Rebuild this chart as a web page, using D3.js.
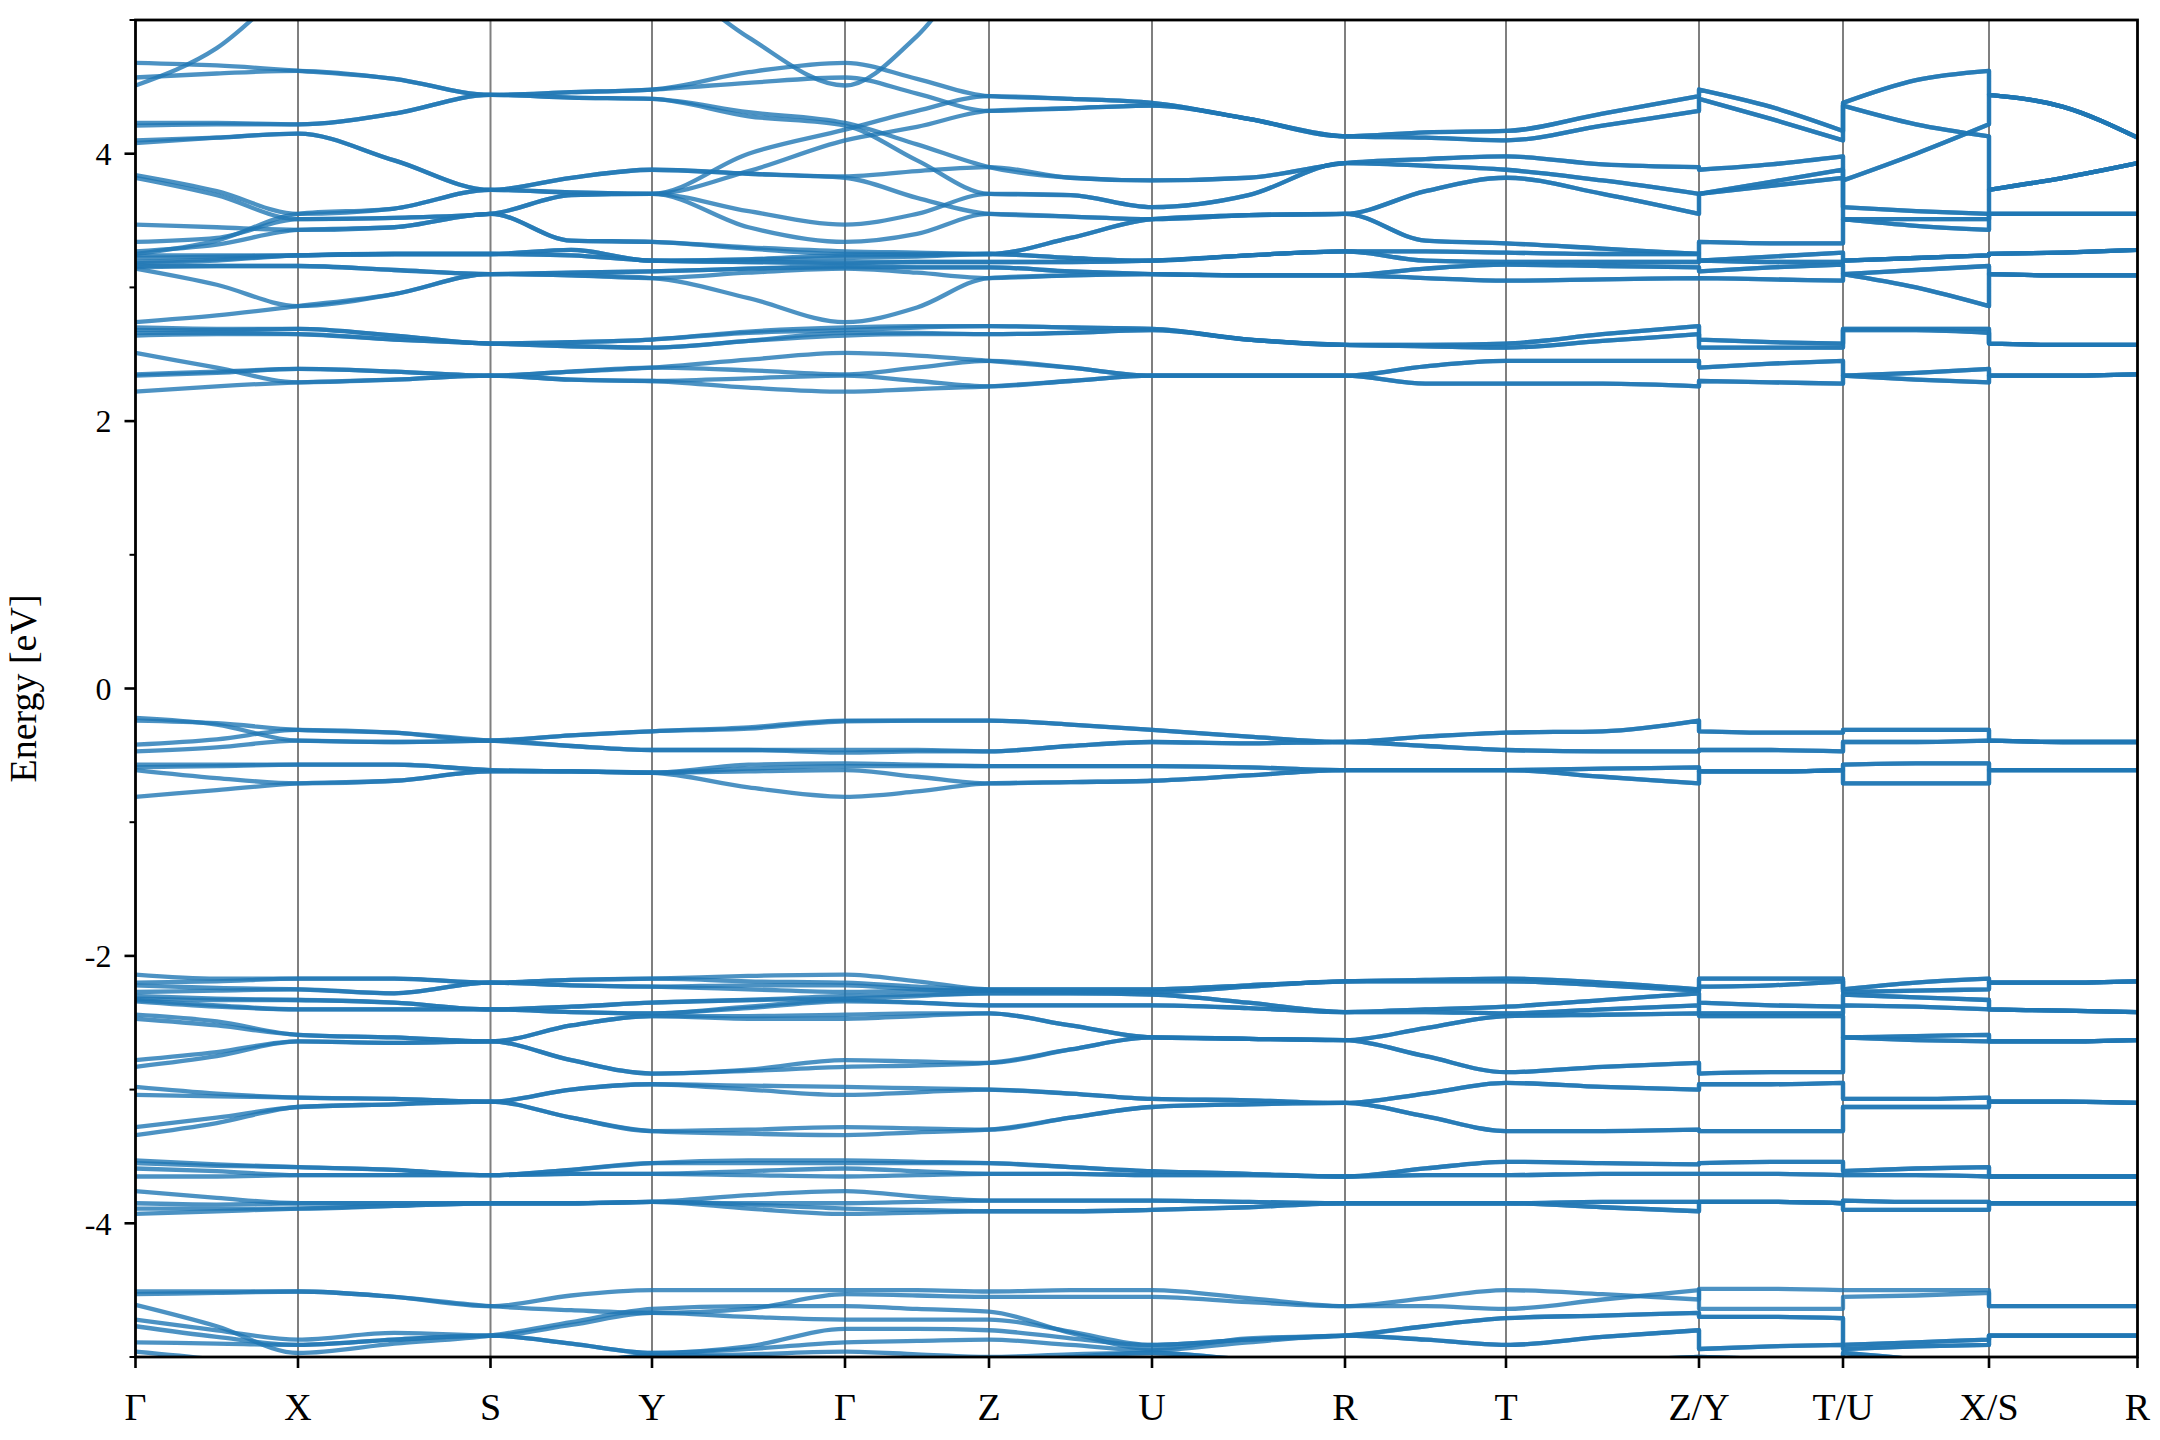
<!DOCTYPE html>
<html><head><meta charset="utf-8">
<script src="https://cdn.jsdelivr.net/npm/d3@7"></script>
<style>body{margin:0;background:#fff}</style>
</head><body>
<svg id="chart" width="2160" height="1440"></svg>
<script>
// high-symmetry k positions along the path and their labels
const kTicks = [0, 0.650, 1.420, 2.066, 2.838, 3.414, 4.066, 4.838, 5.482, 6.254, 6.830, 7.414, 8.008];
const kLabels = ["Γ","X","S","Y","Γ","Z","U","R","T","Z/Y","T/U","X/S","R"];
const energyTicks = [-4, -2, 0, 2, 4];
const energyMinorTicks = [-5, -3, -1, 1, 3, 5];
// path sections (indices into kTicks); each segment carries a midpoint sample
const sections = [[0,1,2,3,4,5,6,7,8,9],[9,10],[10,11],[11,12]];

// band energies (eV) at: Γ,m,X,m,S,m,Y,m,Γ,m,Z,m,U,m,R,m,T,m,Z | Y,m,T | U,m,X | S,m,R
const condUpper = [
[4.51,4.79,5.3,5.7,5.7,5.7,5.4,4.87,4.51,4.88,5.5,5.7,5.7,5.7,5.7,5.7,5.7,5.7,5.5,5.4,5.7,5.7,5.7,5.7,5.4,5.7,5.7,5.7],
[4.68,4.66,4.62,4.56,4.44,4.46,4.48,4.61,4.68,4.56,4.43,4.41,4.38,4.26,4.13,4.16,4.17,4.30,4.43,4.48,4.35,4.17,4.38,4.55,4.62,4.44,4.35,4.12],
[4.57,4.60,4.62,4.56,4.44,4.46,4.48,4.53,4.57,4.45,4.32,4.34,4.36,4.26,4.13,4.12,4.10,4.21,4.32,4.41,4.26,4.10,4.36,4.22,4.13,3.73,3.82,3.93],
[4.23,4.23,4.22,4.30,4.44,4.42,4.41,4.31,4.23,4.07,3.90,3.82,3.80,3.82,3.93,3.96,3.98,3.92,3.90,3.88,3.92,3.98,3.80,4.00,4.22,4.44,4.35,4.12],
[4.21,4.22,4.22,4.30,4.44,4.42,4.41,4.28,4.21,3.95,3.70,3.69,3.60,3.69,3.93,3.91,3.88,3.80,3.70,3.70,3.79,3.88,3.60,3.57,3.55,3.73,3.82,3.93],
[4.10,4.12,4.15,3.95,3.73,3.82,3.88,3.85,3.83,3.87,3.90,3.82,3.80,3.82,3.93,3.96,3.98,3.92,3.90,3.88,3.92,3.98,3.80,4.00,4.22,4.44,4.35,4.12],
[4.08,4.12,4.15,3.95,3.73,3.82,3.88,3.85,3.82,3.67,3.55,3.53,3.51,3.54,3.55,3.72,3.82,3.70,3.55,3.70,3.76,3.82,3.51,3.51,3.51,3.55,3.55,3.55],
[3.84,3.72,3.55,3.59,3.73,3.71,3.70,4.00,4.18,4.32,4.43,4.41,4.38,4.26,4.13,4.16,4.17,4.30,4.43,4.48,4.35,4.17,4.38,4.55,4.62,4.44,4.35,4.12],
[3.25,3.35,3.55,3.59,3.73,3.71,3.70,3.87,4.10,4.20,4.32,4.34,4.36,4.26,4.13,4.12,4.10,4.21,4.32,4.41,4.26,4.10,4.36,4.22,4.13,3.73,3.82,3.93],
[3.82,3.69,3.51,3.52,3.55,3.69,3.70,3.57,3.47,3.55,3.70,3.69,3.60,3.69,3.93,3.91,3.88,3.80,3.70,3.70,3.79,3.88,3.60,3.57,3.55,3.73,3.82,3.93],
[3.34,3.37,3.51,3.52,3.55,3.69,3.70,3.45,3.34,3.40,3.55,3.53,3.51,3.54,3.55,3.72,3.82,3.70,3.55,3.70,3.76,3.82,3.51,3.51,3.51,3.55,3.55,3.55],
[3.47,3.45,3.43,3.45,3.55,3.35,3.34,3.30,3.27,3.26,3.25,3.37,3.51,3.54,3.55,3.35,3.33,3.29,3.25,3.34,3.33,3.33,3.51,3.46,3.43,3.55,3.55,3.55],
[3.27,3.32,3.43,3.45,3.55,3.35,3.34,3.29,3.25,3.25,3.25,3.37,3.51,3.54,3.55,3.35,3.33,3.29,3.25,3.34,3.33,3.33,3.51,3.46,3.43,3.55,3.55,3.55],
[3.24,3.24,3.24,3.25,3.25,3.28,3.20,3.21,3.24,3.24,3.25,3.22,3.20,3.24,3.27,3.27,3.26,3.25,3.25,3.20,3.23,3.26,3.20,3.22,3.24,3.25,3.26,3.28],
[3.22,3.23,3.24,3.25,3.25,3.28,3.20,3.21,3.22,3.23,3.25,3.22,3.20,3.24,3.27,3.27,3.26,3.25,3.25,3.20,3.23,3.26,3.20,3.22,3.24,3.25,3.26,3.28],
[3.19,3.21,3.24,3.25,3.25,3.24,3.20,3.19,3.19,3.19,3.19,3.19,3.20,3.24,3.27,3.20,3.19,3.19,3.19,3.20,3.19,3.19,3.20,3.22,3.24,3.25,3.26,3.28],
[3.18,3.20,3.24,3.25,3.25,3.24,3.20,3.19,3.18,3.19,3.19,3.19,3.20,3.24,3.27,3.20,3.19,3.19,3.19,3.20,3.19,3.19,3.20,3.22,3.24,3.25,3.26,3.28],
[3.16,3.16,3.16,3.13,3.10,3.11,3.12,3.14,3.16,3.15,3.15,3.12,3.10,3.09,3.09,3.14,3.17,3.16,3.15,3.12,3.15,3.17,3.10,3.13,3.16,3.10,3.09,3.09],
[3.15,3.16,3.16,3.13,3.10,3.11,3.12,3.14,3.15,3.15,3.15,3.12,3.10,3.09,3.09,3.14,3.17,3.16,3.15,3.12,3.15,3.17,3.10,3.13,3.16,3.10,3.09,3.09],
[3.14,3.02,2.86,2.95,3.10,3.09,3.07,3.11,3.14,3.11,3.07,3.09,3.10,3.09,3.09,3.07,3.05,3.06,3.07,3.07,3.06,3.05,3.10,3.00,2.86,3.10,3.09,3.09],
[2.74,2.79,2.86,2.95,3.10,3.09,3.07,2.92,2.74,2.85,3.07,3.09,3.10,3.09,3.09,3.07,3.05,3.06,3.07,3.07,3.06,3.05,3.10,3.00,2.86,3.10,3.09,3.09]
];
const condLower = [
[2.70,2.69,2.69,2.64,2.58,2.59,2.61,2.67,2.70,2.71,2.71,2.70,2.69,2.61,2.57,2.57,2.58,2.65,2.71,2.61,2.59,2.58,2.69,2.69,2.69,2.58,2.57,2.57],
[2.68,2.68,2.69,2.64,2.58,2.59,2.61,2.66,2.68,2.70,2.71,2.70,2.69,2.61,2.57,2.57,2.58,2.65,2.71,2.61,2.59,2.58,2.69,2.69,2.69,2.58,2.57,2.57],
[2.66,2.66,2.65,2.61,2.58,2.56,2.55,2.60,2.66,2.66,2.65,2.66,2.68,2.61,2.57,2.56,2.55,2.60,2.65,2.55,2.55,2.55,2.68,2.68,2.66,2.58,2.57,2.57],
[2.64,2.65,2.65,2.61,2.58,2.56,2.55,2.60,2.64,2.65,2.65,2.66,2.68,2.61,2.57,2.56,2.55,2.60,2.65,2.55,2.55,2.55,2.68,2.68,2.66,2.58,2.57,2.57],
[2.35,2.37,2.39,2.37,2.34,2.37,2.40,2.46,2.51,2.49,2.45,2.40,2.34,2.34,2.34,2.41,2.45,2.45,2.45,2.40,2.43,2.45,2.34,2.36,2.39,2.34,2.34,2.35],
[2.34,2.36,2.39,2.37,2.34,2.37,2.40,2.38,2.35,2.40,2.45,2.40,2.34,2.34,2.34,2.41,2.45,2.45,2.45,2.40,2.43,2.45,2.34,2.36,2.39,2.34,2.34,2.35],
[2.51,2.40,2.29,2.31,2.34,2.31,2.30,2.32,2.34,2.30,2.26,2.30,2.34,2.34,2.34,2.28,2.28,2.28,2.26,2.30,2.29,2.28,2.34,2.31,2.29,2.34,2.34,2.35],
[2.22,2.26,2.29,2.31,2.34,2.31,2.30,2.25,2.22,2.24,2.26,2.30,2.34,2.34,2.34,2.28,2.28,2.28,2.26,2.30,2.29,2.28,2.34,2.31,2.29,2.34,2.34,2.35]
];
const valenceTop = [
[-0.22,-0.27,-0.39,-0.40,-0.39,-0.35,-0.32,-0.29,-0.24,-0.24,-0.24,-0.27,-0.31,-0.36,-0.40,-0.36,-0.33,-0.32,-0.24,-0.32,-0.33,-0.33,-0.31,-0.31,-0.31,-0.39,-0.40,-0.40],
[-0.24,-0.26,-0.31,-0.33,-0.39,-0.35,-0.32,-0.30,-0.245,-0.24,-0.24,-0.27,-0.31,-0.36,-0.40,-0.36,-0.33,-0.32,-0.24,-0.32,-0.33,-0.33,-0.31,-0.31,-0.31,-0.39,-0.40,-0.40],
[-0.42,-0.38,-0.31,-0.33,-0.39,-0.43,-0.46,-0.46,-0.46,-0.46,-0.47,-0.43,-0.40,-0.41,-0.40,-0.43,-0.46,-0.47,-0.47,-0.46,-0.46,-0.47,-0.40,-0.40,-0.39,-0.39,-0.40,-0.40],
[-0.47,-0.44,-0.39,-0.40,-0.39,-0.43,-0.46,-0.46,-0.48,-0.47,-0.47,-0.43,-0.40,-0.41,-0.40,-0.43,-0.46,-0.47,-0.47,-0.46,-0.46,-0.47,-0.40,-0.40,-0.39,-0.39,-0.40,-0.40],
[-0.57,-0.57,-0.57,-0.57,-0.61,-0.62,-0.63,-0.57,-0.56,-0.57,-0.58,-0.58,-0.58,-0.59,-0.61,-0.61,-0.61,-0.60,-0.59,-0.62,-0.62,-0.61,-0.57,-0.56,-0.56,-0.61,-0.61,-0.61],
[-0.59,-0.58,-0.57,-0.57,-0.61,-0.62,-0.63,-0.60,-0.58,-0.58,-0.58,-0.58,-0.58,-0.59,-0.61,-0.61,-0.61,-0.60,-0.59,-0.62,-0.62,-0.61,-0.57,-0.56,-0.56,-0.61,-0.61,-0.61],
[-0.61,-0.67,-0.71,-0.69,-0.62,-0.62,-0.63,-0.62,-0.61,-0.66,-0.71,-0.70,-0.69,-0.65,-0.61,-0.61,-0.61,-0.66,-0.71,-0.62,-0.62,-0.61,-0.71,-0.71,-0.71,-0.61,-0.61,-0.61],
[-0.81,-0.76,-0.71,-0.69,-0.62,-0.62,-0.63,-0.74,-0.81,-0.77,-0.71,-0.70,-0.69,-0.65,-0.61,-0.61,-0.61,-0.66,-0.71,-0.62,-0.62,-0.61,-0.71,-0.71,-0.71,-0.61,-0.61,-0.61]
];
const valenceMid = [
[-2.14,-2.17,-2.17,-2.17,-2.20,-2.18,-2.17,-2.15,-2.14,-2.19,-2.25,-2.25,-2.25,-2.22,-2.19,-2.18,-2.17,-2.20,-2.25,-2.17,-2.17,-2.17,-2.25,-2.20,-2.17,-2.20,-2.20,-2.19],
[-2.20,-2.19,-2.17,-2.17,-2.20,-2.18,-2.17,-2.19,-2.20,-2.23,-2.25,-2.25,-2.25,-2.22,-2.19,-2.18,-2.17,-2.20,-2.25,-2.17,-2.17,-2.17,-2.25,-2.20,-2.17,-2.20,-2.20,-2.19],
[-2.22,-2.24,-2.25,-2.28,-2.20,-2.22,-2.23,-2.22,-2.22,-2.25,-2.26,-2.27,-2.27,-2.23,-2.19,-2.19,-2.19,-2.22,-2.26,-2.23,-2.22,-2.19,-2.27,-2.26,-2.25,-2.20,-2.20,-2.19],
[-2.27,-2.26,-2.25,-2.28,-2.20,-2.22,-2.23,-2.25,-2.27,-2.26,-2.26,-2.27,-2.27,-2.23,-2.19,-2.19,-2.19,-2.22,-2.26,-2.23,-2.22,-2.19,-2.27,-2.26,-2.25,-2.20,-2.20,-2.19],
[-2.30,-2.32,-2.33,-2.35,-2.40,-2.38,-2.35,-2.33,-2.30,-2.29,-2.28,-2.28,-2.29,-2.35,-2.42,-2.40,-2.38,-2.33,-2.28,-2.35,-2.37,-2.38,-2.29,-2.31,-2.33,-2.40,-2.41,-2.42],
[-2.32,-2.33,-2.33,-2.35,-2.40,-2.38,-2.35,-2.33,-2.32,-2.30,-2.28,-2.28,-2.29,-2.35,-2.42,-2.40,-2.38,-2.33,-2.28,-2.35,-2.37,-2.38,-2.29,-2.31,-2.33,-2.40,-2.41,-2.42],
[-2.33,-2.37,-2.40,-2.40,-2.40,-2.42,-2.43,-2.38,-2.33,-2.35,-2.37,-2.37,-2.37,-2.39,-2.42,-2.42,-2.43,-2.40,-2.37,-2.43,-2.43,-2.43,-2.37,-2.38,-2.40,-2.40,-2.41,-2.42],
[-2.34,-2.38,-2.40,-2.40,-2.40,-2.42,-2.43,-2.39,-2.34,-2.35,-2.37,-2.37,-2.37,-2.39,-2.42,-2.42,-2.43,-2.40,-2.37,-2.43,-2.43,-2.43,-2.37,-2.38,-2.40,-2.40,-2.41,-2.42],
[-2.44,-2.49,-2.59,-2.61,-2.64,-2.52,-2.45,-2.45,-2.44,-2.43,-2.43,-2.52,-2.61,-2.62,-2.63,-2.54,-2.45,-2.44,-2.43,-2.45,-2.45,-2.45,-2.61,-2.60,-2.59,-2.64,-2.64,-2.63],
[-2.47,-2.52,-2.59,-2.61,-2.64,-2.52,-2.45,-2.47,-2.47,-2.45,-2.43,-2.52,-2.61,-2.62,-2.63,-2.54,-2.45,-2.44,-2.43,-2.45,-2.45,-2.45,-2.61,-2.60,-2.59,-2.64,-2.64,-2.63],
[-2.78,-2.72,-2.64,-2.65,-2.64,-2.78,-2.88,-2.85,-2.78,-2.79,-2.80,-2.70,-2.61,-2.62,-2.63,-2.75,-2.87,-2.83,-2.80,-2.88,-2.87,-2.87,-2.61,-2.63,-2.64,-2.64,-2.64,-2.63],
[-2.83,-2.75,-2.64,-2.65,-2.64,-2.78,-2.88,-2.86,-2.83,-2.82,-2.80,-2.70,-2.61,-2.62,-2.63,-2.75,-2.87,-2.83,-2.80,-2.88,-2.87,-2.87,-2.61,-2.63,-2.64,-2.64,-2.64,-2.63],
[-2.98,-3.03,-3.06,-3.07,-3.09,-3.00,-2.96,-2.97,-2.98,-2.99,-3.00,-3.03,-3.07,-3.08,-3.10,-3.03,-2.95,-2.98,-3.00,-2.96,-2.96,-2.95,-3.07,-3.07,-3.06,-3.09,-3.09,-3.10],
[-3.04,-3.05,-3.06,-3.07,-3.09,-3.00,-2.96,-3.00,-3.04,-3.02,-3.00,-3.03,-3.07,-3.08,-3.10,-3.03,-2.95,-2.98,-3.00,-2.96,-2.96,-2.95,-3.07,-3.07,-3.06,-3.09,-3.09,-3.10],
[-3.28,-3.21,-3.13,-3.11,-3.09,-3.21,-3.31,-3.30,-3.28,-3.29,-3.30,-3.21,-3.13,-3.11,-3.10,-3.20,-3.31,-3.31,-3.30,-3.31,-3.31,-3.31,-3.13,-3.13,-3.13,-3.09,-3.09,-3.10],
[-3.34,-3.25,-3.13,-3.11,-3.09,-3.21,-3.31,-3.33,-3.34,-3.32,-3.30,-3.21,-3.13,-3.11,-3.10,-3.20,-3.31,-3.31,-3.30,-3.31,-3.31,-3.31,-3.13,-3.13,-3.13,-3.09,-3.09,-3.10]
];
const valenceLow = [
[-3.53,-3.56,-3.58,-3.60,-3.64,-3.60,-3.55,-3.53,-3.53,-3.54,-3.55,-3.58,-3.61,-3.63,-3.65,-3.59,-3.54,-3.55,-3.56,-3.55,-3.54,-3.54,-3.61,-3.59,-3.58,-3.65,-3.65,-3.65],
[-3.55,-3.57,-3.58,-3.60,-3.64,-3.60,-3.55,-3.55,-3.55,-3.55,-3.55,-3.58,-3.61,-3.63,-3.65,-3.59,-3.54,-3.55,-3.56,-3.55,-3.54,-3.54,-3.61,-3.59,-3.58,-3.65,-3.65,-3.65],
[-3.59,-3.61,-3.64,-3.64,-3.64,-3.63,-3.63,-3.61,-3.59,-3.61,-3.63,-3.63,-3.64,-3.64,-3.65,-3.64,-3.64,-3.63,-3.63,-3.63,-3.63,-3.64,-3.64,-3.64,-3.65,-3.65,-3.65,-3.65],
[-3.65,-3.65,-3.64,-3.64,-3.64,-3.63,-3.63,-3.64,-3.65,-3.64,-3.63,-3.63,-3.64,-3.64,-3.65,-3.64,-3.64,-3.63,-3.63,-3.63,-3.63,-3.64,-3.64,-3.64,-3.65,-3.65,-3.65,-3.65],
[-3.76,-3.81,-3.85,-3.85,-3.85,-3.85,-3.84,-3.79,-3.76,-3.80,-3.83,-3.83,-3.83,-3.84,-3.85,-3.85,-3.85,-3.84,-3.84,-3.84,-3.84,-3.85,-3.83,-3.84,-3.84,-3.85,-3.85,-3.85],
[-3.85,-3.86,-3.85,-3.85,-3.85,-3.85,-3.84,-3.85,-3.85,-3.84,-3.83,-3.83,-3.83,-3.84,-3.85,-3.85,-3.85,-3.84,-3.84,-3.84,-3.84,-3.85,-3.83,-3.84,-3.84,-3.85,-3.85,-3.85],
[-3.89,-3.89,-3.89,-3.87,-3.85,-3.85,-3.84,-3.86,-3.89,-3.90,-3.91,-3.91,-3.90,-3.88,-3.85,-3.85,-3.85,-3.88,-3.91,-3.84,-3.84,-3.85,-3.90,-3.90,-3.90,-3.85,-3.85,-3.85],
[-3.93,-3.91,-3.89,-3.87,-3.85,-3.85,-3.84,-3.89,-3.93,-3.92,-3.91,-3.91,-3.90,-3.88,-3.85,-3.85,-3.85,-3.88,-3.91,-3.84,-3.84,-3.85,-3.90,-3.90,-3.90,-3.85,-3.85,-3.85],
[-4.51,-4.51,-4.51,-4.55,-4.62,-4.54,-4.50,-4.50,-4.50,-4.50,-4.51,-4.50,-4.50,-4.56,-4.62,-4.56,-4.50,-4.53,-4.57,-4.49,-4.49,-4.50,-4.50,-4.50,-4.50,-4.62,-4.62,-4.62],
[-4.53,-4.52,-4.51,-4.55,-4.62,-4.65,-4.67,-4.64,-4.53,-4.54,-4.55,-4.55,-4.55,-4.59,-4.62,-4.62,-4.64,-4.57,-4.50,-4.64,-4.64,-4.64,-4.55,-4.54,-4.52,-4.62,-4.62,-4.62],
[-4.61,-4.77,-4.97,-4.90,-4.84,-4.74,-4.64,-4.62,-4.62,-4.64,-4.66,-4.82,-4.94,-4.86,-4.84,-4.77,-4.71,-4.69,-4.67,-4.70,-4.70,-4.71,-4.91,-4.89,-4.87,-4.84,-4.84,-4.84],
[-4.72,-4.80,-4.87,-4.82,-4.84,-4.76,-4.67,-4.70,-4.72,-4.72,-4.72,-4.81,-4.91,-4.87,-4.84,-4.77,-4.71,-4.69,-4.67,-4.70,-4.70,-4.71,-4.91,-4.89,-4.87,-4.84,-4.84,-4.84],
[-4.77,-4.85,-4.91,-4.87,-4.84,-4.90,-4.97,-4.92,-4.79,-4.79,-4.80,-4.86,-4.91,-4.87,-4.84,-4.87,-4.91,-4.85,-4.80,-4.94,-4.92,-4.91,-4.94,-4.92,-4.91,-4.84,-4.84,-4.84],
[-4.89,-4.90,-4.91,-4.87,-4.84,-4.90,-4.97,-4.94,-4.89,-4.88,-4.87,-4.91,-4.95,-4.89,-4.84,-4.87,-4.91,-4.85,-4.80,-4.94,-4.92,-4.91,-4.94,-4.92,-4.91,-4.84,-4.84,-4.84],
[-4.96,-5.02,-5.10,-5.10,-5.10,-5.05,-4.99,-4.98,-4.96,-4.98,-5.00,-4.98,-4.97,-5.02,-5.06,-5.06,-5.06,-5.03,-5.00,-5.00,-5.02,-5.06,-4.97,-5.02,-5.10,-5.10,-5.08,-5.06],
[-5.02,-5.06,-5.10,-5.10,-5.10,-5.05,-4.99,-5.00,-5.02,-5.03,-5.05,-5.00,-4.97,-5.02,-5.06,-5.06,-5.06,-5.03,-5.00,-5.00,-5.02,-5.06,-4.97,-5.02,-5.10,-5.10,-5.08,-5.06]
];
const allBands = [].concat(condUpper, condLower, valenceTop, valenceMid, valenceLow);

const svg = d3.select("#chart");
svg.append("rect").attr("width",2160).attr("height",1440).attr("fill","#fff");
const L = 135.5, R = 2137.5, T = 20, B = 1357;
const x = d3.scaleLinear().domain([kTicks[0], kTicks[kTicks.length-1]]).range([L, R]);
const y = d3.scaleLinear().domain([-5, 5]).range([B, T]);

svg.append("defs").append("clipPath").attr("id","clip")
  .append("rect").attr("x",L).attr("y",T).attr("width",R-L).attr("height",B-T);

// vertical lines at high-symmetry points
svg.append("g").selectAll("line").data(kTicks.slice(1,-1)).join("line")
  .attr("x1",d=>x(d)).attr("x2",d=>x(d)).attr("y1",T).attr("y2",B)
  .attr("stroke","#000").attr("stroke-opacity",0.5).attr("stroke-width",2);

const line = d3.line().x(d=>x(d[0])).y(d=>y(d[1])).curve(d3.curveMonotoneX);
function bandPath(vals){
  let d = "", idx = 0;
  sections.forEach((sec, si) => {
    const pts = [];
    for (let j = 0; j < sec.length; j++) {
      pts.push([kTicks[sec[j]], vals[idx++]]);
      if (j < sec.length - 1) pts.push([(kTicks[sec[j]] + kTicks[sec[j+1]]) / 2, vals[idx++]]);
    }
    let s = line(pts);
    if (si > 0) s = "L" + s.slice(1);
    d += s;
  });
  return d;
}
svg.append("g").attr("clip-path","url(#clip)").selectAll("path").data(allBands).join("path")
  .attr("d", bandPath).attr("fill","none").attr("stroke","#1f77b4")
  .attr("stroke-opacity",0.8).attr("stroke-width",4.3)
  .attr("stroke-linejoin","round").attr("stroke-linecap","butt");

// frame
svg.append("rect").attr("x",L).attr("y",T).attr("width",R-L).attr("height",B-T)
  .attr("fill","none").attr("stroke","#000").attr("stroke-width",2.8);

// x ticks
const gx = svg.append("g");
gx.selectAll("line").data(kTicks).join("line")
  .attr("x1",d=>x(d)).attr("x2",d=>x(d)).attr("y1",B).attr("y2",B+11)
  .attr("stroke","#000").attr("stroke-width",2.6);
gx.selectAll("text").data(kTicks).join("text")
  .attr("x",d=>x(d)).attr("y",1420).attr("text-anchor","middle")
  .attr("font-family","'Liberation Serif', 'DejaVu Serif', serif").attr("font-size",38)
  .text((d,i)=>kLabels[i]);

// y ticks
const gy = svg.append("g");
gy.selectAll("line.maj").data(energyTicks).join("line").attr("class","maj")
  .attr("x1",L-11).attr("x2",L).attr("y1",d=>y(d)).attr("y2",d=>y(d))
  .attr("stroke","#000").attr("stroke-width",2.6);
gy.selectAll("line.min").data(energyMinorTicks).join("line").attr("class","min")
  .attr("x1",L-6).attr("x2",L).attr("y1",d=>y(d)).attr("y2",d=>y(d))
  .attr("stroke","#000").attr("stroke-width",2);
gy.selectAll("text").data(energyTicks).join("text")
  .attr("x",L-24).attr("y",d=>y(d)).attr("dy","0.35em").attr("text-anchor","end")
  .attr("font-family","'Liberation Serif', 'DejaVu Serif', serif").attr("font-size",32)
  .text(d=>String(d));

svg.append("text").attr("transform",`translate(36,${y(0)}) rotate(-90)`)
  .attr("text-anchor","middle")
  .attr("font-family","'Liberation Serif', 'DejaVu Serif', serif").attr("font-size",38)
  .text("Energy [eV]");
</script>
</body></html>
